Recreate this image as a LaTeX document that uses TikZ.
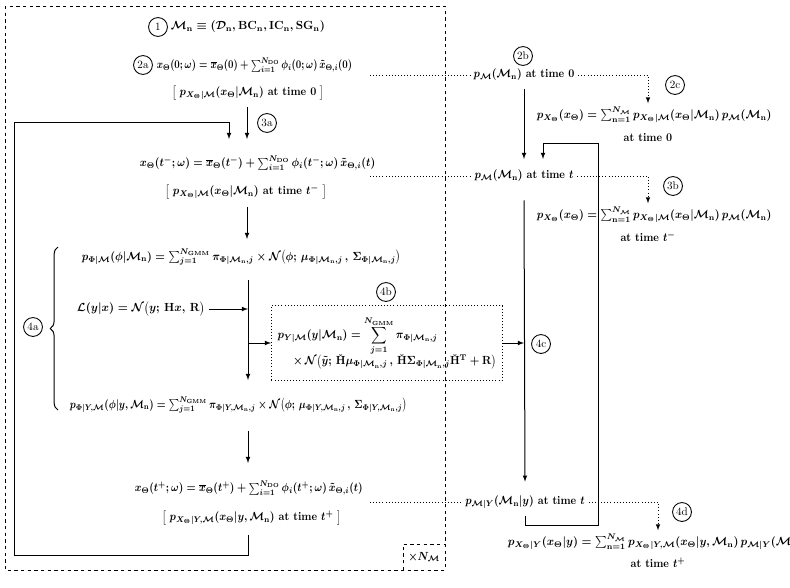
\documentclass[tikz,border=0pt]{standalone}
\usepackage{amsmath,amssymb}
\usetikzlibrary{decorations.pathreplacing}
\newcommand{\Mc}{\mathcal{M}}
\newcommand{\Mn}{\mathcal{M}_{\mathrm{n}}}
\newcommand{\xth}{x_{\Theta}}
\newcommand{\pX}{p_{X_{\Theta}}}
\newcommand{\eq}[2][0.9]{\scalebox{#1}[1.06]{$#2$}}
\tikzset{
	lbl/.style={draw,circle,inner sep=0pt,minimum size=17pt,line width=0.8pt,font=\normalfont},
	arr/.style={->,line width=0.9pt},
	dots/.style={dotted,line width=0.8pt},
	dotarr/.style={->,dotted,line width=0.8pt}
}
\begin{document}
\begin{tikzpicture}[x=0.9pt,y=-0.9pt,>=latex,every node/.append style={font=\bfseries\boldmath}]
	\useasboundingbox (0,0) rectangle (790,588);
	\draw[dashed,line width=0.9pt] (5,6) rectangle (445,570);
	\draw[dashed,line width=0.9pt] (403,570) -- (403,544) -- (445,544);
	\node (xnm) at (424,557) {\eq[0.95]{\times N_{\Mc}}};

	\node[lbl] (c1) at (158,27) {1};
	\node[anchor=west] (m1) at (167,27) {\eq[1.03]{\Mn \equiv (\mathcal{D}_{\mathrm{n}}, \mathrm{BC}_{\mathrm{n}}, \mathrm{IC}_{\mathrm{n}}, \mathrm{SG}_{\mathrm{n}})}};
	\node[lbl] (c2a) at (143,65) {2a};
	\node[anchor=west] (x0) at (153,65) {\eq[0.85]{\xth(0;\omega) = \overline{x}_{\Theta}(0) + \sum_{i=1}^{N_{\mathrm{DO}}} \phi_i(0;\omega)\,\tilde{x}_{\Theta,i}(0)}};
	\node[anchor=west] (p0) at (168,93) {\eq[0.95]{\big[\;\pX{}_{|\Mc}(\xth|\Mn)\text{ at time }0\;\big]}};
	\node[lbl] (c3a) at (267,123) {3a};
	\node[anchor=west] (xm) at (136,163) {\eq[0.95]{\xth(t^-;\omega) = \overline{x}_{\Theta}(t^-) + \sum_{i=1}^{N_{\mathrm{DO}}} \phi_i(t^-;\omega)\,\tilde{x}_{\Theta,i}(t)}};
	\node[anchor=west] (pm) at (161,192) {\eq[0.97]{\big[\;\pX{}_{|\Mc}(\xth|\Mn)\text{ at time }t^-\;\big]}};
	\node[anchor=west] (pphi) at (78,257) {\eq[0.97]{p_{\Phi|\Mc}(\phi|\Mn) = \sum_{j=1}^{N_{\mathrm{GMM}}} \pi_{\Phi|\Mn,j} \times \mathcal{N}\big(\phi;\,\mu_{\Phi|\Mn,j}\,,\,\Sigma_{\Phi|\Mn,j}\big)}};
	\node[anchor=west] (lik) at (73,309) {\eq[1.02]{\mathcal{L}(y|x) = \mathcal{N}\big(y;\,\mathbf{H}x,\,\mathbf{R}\big)}};
	\node[lbl] (c4b) at (386,292) {4b};
	\node[draw,dotted,line width=0.8pt,align=left,minimum width=208pt,minimum height=67pt] (box) at (387,343)
		{\eq[0.97]{p_{Y|\Mc}(y|\Mn) = \displaystyle\sum_{j=1}^{N_{\mathrm{GMM}}} \pi_{\Phi|\Mn,j}}\\[-2pt]
		 \hspace{14pt}\eq[0.97]{\times\,\mathcal{N}\big(\tilde{y};\,\check{\mathbf{H}}\mu_{\Phi|\Mn,j}\,,\,\check{\mathbf{H}}\Sigma_{\Phi|\Mn,j}\check{\mathbf{H}}^{\mathrm{T}}+\mathbf{R}\big)}};
	\node[lbl] (c4a) at (33,327) {4a};
	\coordinate (brbot) at (58,410);
	\coordinate (brtop) at (58,247);
	\draw[decorate,decoration={brace,amplitude=7pt},line width=0.9pt] (brbot) -- (brtop);
	\node[anchor=west] (pphiy) at (66,405) {\eq[0.89]{p_{\Phi|Y,\Mc}(\phi|y,\Mn) = \sum_{j=1}^{N_{\mathrm{GMM}}} \pi_{\Phi|Y,\Mn,j} \times \mathcal{N}\big(\phi;\,\mu_{\Phi|Y,\Mn,j}\,,\,\Sigma_{\Phi|Y,\Mn,j}\big)}};
	\node[anchor=west] (xp) at (131,488) {\eq[0.92]{\xth(t^+;\omega) = \overline{x}_{\Theta}(t^+) + \sum_{i=1}^{N_{\mathrm{DO}}} \phi_i(t^+;\omega)\,\tilde{x}_{\Theta,i}(t)}};
	\node[anchor=west] (pp) at (158,518) {\eq[0.95]{\big[\;\pX{}_{|Y,\Mc}(\xth|y,\Mn)\text{ at time }t^+\;\big]}};

	\node[lbl] (c2b) at (523,56) {2b};
	\node (r0) at (524,75) {\eq[0.95]{p_{\Mc}(\Mn)\text{ at time }0}};
	\node[lbl] (c2c) at (675,85) {2c};
	\node[anchor=west] (s0) at (533,115) {\eq[0.98]{\pX(\xth) = \sum_{\mathrm{n}=1}^{N_{\Mc}} \pX{}_{|\Mc}(\xth|\Mn)\,p_{\Mc}(\Mn)}};
	\node (s0t) at (648,137) {\eq[0.95]{\text{at time }0}};
	\node (rt) at (524,176) {\eq[0.95]{p_{\Mc}(\Mn)\text{ at time }t}};
	\node[lbl] (c3b) at (673,186) {3b};
	\node[anchor=west] (st) at (533,215) {\eq[0.98]{\pX(\xth) = \sum_{\mathrm{n}=1}^{N_{\Mc}} \pX{}_{|\Mc}(\xth|\Mn)\,p_{\Mc}(\Mn)}};
	\node (stt) at (648,237) {\eq[0.95]{\text{at time }t^-}};
	\node[lbl] (c4c) at (541,344) {4c};
	\node (ry) at (525,502) {\eq[0.95]{p_{\Mc|Y}(\Mn|y)\text{ at time }t}};
	\node[lbl] (c4d) at (682,512) {4d};
	\node[anchor=west] (sy) at (504,542) {\eq[1.0]{\pX{}_{|Y}(\xth|y) = \sum_{\mathrm{n}=1}^{N_{\Mc}} \pX{}_{|Y,\Mc}(\xth|y,\Mn)\,p_{\Mc|Y}(\Mn|y)}};
	\node (syt) at (658,563) {\eq[0.95]{\text{at time }t^+}};

	\coordinate (dstart) at (370,0);
	\coordinate (vtop) at (248,280);
	\coordinate (vbot) at (248,380);
	\coordinate (loopbl) at (14,555);
	\coordinate (looptop) at (229,122);
	\coordinate (in3a) at (229,139);
	\coordinate (rloopbr) at (598,525);
	\coordinate (rlooptop) at (543,143);
	\coordinate (in3b) at (543,159);

	\draw[arr] (247,107) -- (247,139);
	\draw[arr] ([yshift=-5pt]pp.south -| vtop) |- (loopbl) |- (looptop) -- (in3a);
	\draw[arr] (247,207) -- (247,239);
	\draw[arr] (vtop) -- (vbot);
	\draw[arr] (lik.east) -- (lik.east -| vtop);
	\draw[arr] (box.west -| vtop) -- (box.west);
	\draw[arr] (box.east) -- (box.east -| rt);
	\draw[arr] (248,431) -- (248,463);

	\draw[dots] (r0.west -| dstart) -- (r0.west);
	\draw[dots] (rt.west -| dstart) -- (rt.west);
	\draw[dots] (ry.west -| dstart) -- (ry.west);
	\draw[dotarr] (r0.east) -| (s0t |- s0.north);
	\draw[dotarr] (rt.east) -| (stt |- st.north);
	\draw[dotarr] (ry.east) -| (syt |- sy.north);

	\draw[arr] ([yshift=-4pt]r0.south) -- (rt.north |- in3b);
	\draw[arr] ([yshift=-13pt]rt.south) -- ([yshift=9pt]ry.north);
	\draw[arr] ([yshift=-3pt]ry.south) |- (rloopbr) |- (rlooptop) -- (in3b);
\end{tikzpicture}
\end{document}
